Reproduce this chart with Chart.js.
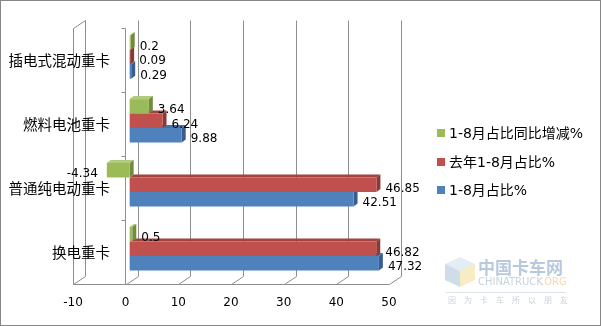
<!DOCTYPE html>
<html>
<head>
<meta charset="utf-8">
<script src="https://cdn.jsdelivr.net/npm/chart.js@4.4.1/dist/chart.umd.min.js"></script>
<style>
  html, body { margin: 0; padding: 0; background: #fff; }
  #wrap { position: relative; width: 601px; height: 326px; }
</style>
</head>
<body>
<div id="wrap"><canvas id="chart"></canvas></div>
<script>
// --- Data ---
const categories = ['插电式混动重卡', '燃料电池重卡', '普通纯电动重卡', '换电重卡'];
const seriesNames = ['1-8月占比同比增减%', '去年1-8月占比%', '1-8月占比%'];
const changeYoY = [0.2, 3.64, -4.34, 0.5];
const shareLastYear = [0.09, 6.24, 46.85, 46.82];
const shareThisYear = [0.29, 9.88, 42.51, 47.32];
const xTicks = [-10, 0, 10, 20, 30, 40, 50];

// front / top / side shades for each series
const frontColors = ['#9BBB59', '#C0504D', '#4F81BD'];
const topColors = ['#B0CB7C', '#A3433F', '#4470A6'];
const sideColors = ['#738B41', '#8C3836', '#375E8E'];

const BAR_DX = 4, BAR_DY = -3;     // bars sit slightly behind the front edge
const EXT_DX = 4, EXT_DY = -3;     // bar depth
const WALL_DX = 12, WALL_DY = -8;  // back wall offset

const numFont = '12px "DejaVu Sans", "Noto Sans CJK SC", sans-serif';

function line(ctx, x1, y1, x2, y2) {
  ctx.beginPath();
  ctx.moveTo(x1, y1);
  ctx.lineTo(x2, y2);
  ctx.stroke();
}

function poly(ctx, pts, color) {
  ctx.beginPath();
  ctx.moveTo(pts[0][0], pts[0][1]);
  for (let i = 1; i < pts.length; i++) ctx.lineTo(pts[i][0], pts[i][1]);
  ctx.closePath();
  ctx.fillStyle = color;
  ctx.fill();
}

const box3d = {
  id: 'box3d',
  beforeDatasetsDraw(chart) {
    const { ctx, chartArea: a, scales: { x, y } } = chart;

    // walls, floor and back grid
    ctx.save();
    ctx.strokeStyle = '#8e8e8e';
    ctx.lineWidth = 1;
    const xl = Math.round(x.getPixelForValue(xTicks[0])) + 0.5;
    const xr = Math.round(x.getPixelForValue(xTicks[xTicks.length - 1])) + 0.5;
    const bot = Math.round(a.bottom) + 0.5;
    const top = Math.round(a.top) + 0.5;
    xTicks.forEach(v => {
      const xf = Math.round(x.getPixelForValue(v)) + 0.5;
      const xb = xf + WALL_DX;
      line(ctx, xb, top + WALL_DY, xb, bot + WALL_DY);
      line(ctx, xf, bot, xb, bot + WALL_DY);
    });
    line(ctx, xl, bot, xr, bot);
    line(ctx, xl, top, xl, bot);
    line(ctx, xl, top, xl + WALL_DX, top + WALL_DY);

    // category axis at zero with boundary ticks
    const x0 = Math.round(x.getPixelForValue(0)) - 0.5;
    line(ctx, x0, top, x0, bot);
    const step = y.getPixelForValue(1) - y.getPixelForValue(0);
    for (let i = 0; i <= categories.length; i++) {
      const ty = Math.round(y.getPixelForValue(0) - step / 2 + i * step) + 0.5;
      line(ctx, x0 - 4, ty, x0, ty);
    }
    ctx.restore();

    // category names
    ctx.save();
    ctx.font = '14.5px "Noto Sans CJK SC", sans-serif';
    ctx.fillStyle = '#000';
    ctx.textAlign = 'right';
    ctx.textBaseline = 'middle';
    categories.forEach((c, i) => ctx.fillText(c, 110, y.getPixelForValue(i) + 1));
    ctx.restore();

    // bar tops and ends, lowest series first
    ctx.save();
    ctx.translate(BAR_DX, BAR_DY);
    for (let d = chart.data.datasets.length - 1; d >= 0; d--) {
      chart.getDatasetMeta(d).data.forEach(bar => {
        const p = bar.getProps(['x', 'y', 'base', 'height'], true);
        const l = Math.min(p.x, p.base), r = Math.max(p.x, p.base);
        const t = p.y - p.height / 2, b = p.y + p.height / 2;
        poly(ctx, [[l, t], [l + EXT_DX, t + EXT_DY], [r + EXT_DX, t + EXT_DY], [r, t]], topColors[d]);
        poly(ctx, [[r, t], [r + EXT_DX, t + EXT_DY], [r + EXT_DX, b + EXT_DY], [r, b]], sideColors[d]);
      });
    }
    // the shift stays on for the bar fronts, undone after datasets
  },
  afterDatasetsDraw(chart) {
    const { ctx, scales: { x } } = chart;
    ctx.restore();

    // value labels
    ctx.save();
    ctx.font = numFont;
    ctx.fillStyle = '#000';
    ctx.textBaseline = 'middle';
    chart.data.datasets.forEach((ds, d) => {
      chart.getDatasetMeta(d).data.forEach((bar, i) => {
        const v = ds.data[i];
        const px = x.getPixelForValue(v);
        if (v < 0) {
          ctx.textAlign = 'right';
          ctx.fillText(String(v), px - 5, bar.y + 1);
        } else {
          ctx.textAlign = 'left';
          ctx.fillText(String(v), px + 13, bar.y + 1);
        }
      });
    });
    ctx.restore();
  },
  afterDraw(chart) {
    const { ctx } = chart;
    ctx.save();

    // legend
    const legendY = [133, 162, 190];
    ctx.font = '14px "DejaVu Sans", "Noto Sans CJK SC", sans-serif';
    ctx.textBaseline = 'middle';
    ctx.textAlign = 'left';
    chart.data.datasets.forEach((ds, d) => {
      ctx.fillStyle = frontColors[d];
      ctx.fillRect(437, legendY[d] - 4, 8, 8);
      ctx.fillStyle = '#000';
      ctx.fillText(ds.label, 449, legendY[d] + 1);
    });

    // site mark, bottom right
    ctx.globalAlpha = 0.5;
    poly(ctx, [[460, 257], [475, 264], [460, 271], [445, 264]], '#c9d9ea');
    poly(ctx, [[445, 264], [460, 271], [460, 287], [445, 280]], '#9fbbd8');
    poly(ctx, [[460, 271], [475, 264], [475, 280], [460, 287]], '#f2d98a');
    ctx.font = 'bold 17px "Noto Sans CJK SC", sans-serif';
    ctx.fillStyle = '#6f93bd';
    ctx.fillText('中国卡车网', 478, 268);
    ctx.font = '10px "DejaVu Sans", sans-serif';
    ctx.fillStyle = '#8ea6c0';
    ctx.fillText('CHINATRUCK', 478, 282);
    ctx.fillStyle = '#f0b060';
    ctx.fillText('.ORG', 541, 282);
    ctx.strokeStyle = '#b8c6d4';
    line(ctx, 446, 292.5, 566, 292.5);
    ctx.font = '8px "Noto Sans CJK SC", sans-serif';
    ctx.fillStyle = '#9aa6b2';
    '因为卡车所以朋友'.split('').forEach((ch, i) => ctx.fillText(ch, 448 + i * 16, 300));
    ctx.globalAlpha = 1;

    // outer frame
    ctx.strokeStyle = '#868686';
    ctx.lineWidth = 1;
    ctx.strokeRect(0.5, 0.5, 600, 325);
    ctx.restore();
  }
};

const datasets = [changeYoY, shareLastYear, shareThisYear].map((vals, d) => ({
  label: seriesNames[d],
  data: vals,
  backgroundColor: frontColors[d],
  borderWidth: 0,
  categoryPercentage: 0.68,
  barPercentage: 1,
  clip: false
}));

new Chart(document.getElementById('chart'), {
  type: 'bar',
  data: { labels: categories, datasets },
  options: {
    indexAxis: 'y',
    responsive: true,
    maintainAspectRatio: false,
    animation: false,
    layout: { padding: { left: 73, right: 212, top: 28, bottom: 4 } },
    plugins: {
      legend: { display: false },
      tooltip: { enabled: false }
    },
    scales: {
      x: {
        min: -10,
        max: 50,
        grid: { display: false, drawTicks: false },
        border: { display: false },
        ticks: {
          stepSize: 10,
          padding: 12,
          color: '#000',
          font: { family: '"DejaVu Sans", sans-serif', size: 12 }
        }
      },
      y: { display: false }
    }
  },
  plugins: [box3d]
});
</script>
</body>
</html>
